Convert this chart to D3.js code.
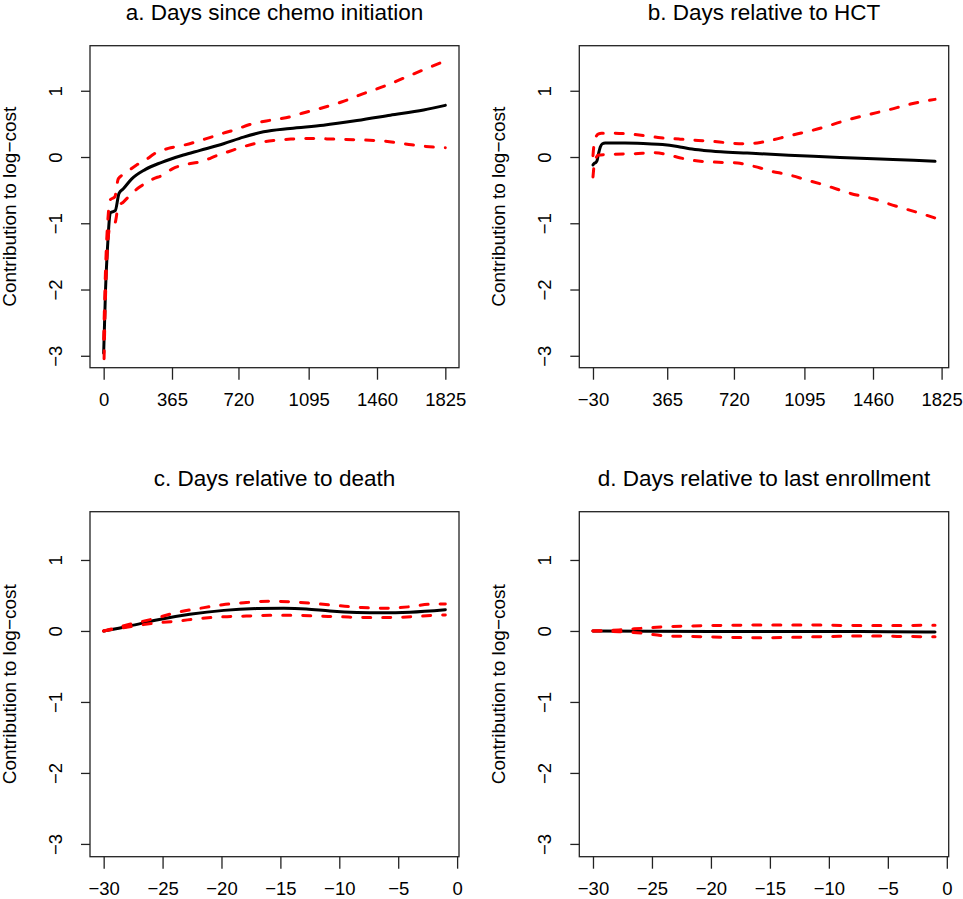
<!DOCTYPE html>
<html>
<head>
<meta charset="utf-8">
<script src="https://cdn.jsdelivr.net/npm/d3@7"></script>
<style>
  body { margin: 0; background: #fff; }
</style>
</head>
<body>
<script>
// ---- data ----
const titles = [
  "a. Days since chemo initiation",
  "b. Days relative to HCT",
  "c. Days relative to death",
  "d. Days relative to last enrollment",
];
const yLabel = "Contribution to log\u2212cost";
const yLim = [-3, 1.5];
const yTicks = [-3, -2, -1, 0, 1];
const xTicksA = [0, 365, 720, 1095, 1460, 1825];
const xTicksB = [-30, 365, 720, 1095, 1460, 1825];
const xTicksCD = [-30, -25, -20, -15, -10, -5, 0];

// a. chemo initiation
const fitDaysA = [0, 10, 24, 30, 37, 62, 82, 105, 150, 221, 310, 426, 515, 640, 747, 854, 996, 1174, 1353, 1531, 1709, 1825];
const fitA = [-2.96, -2.0, -1.2, -0.95, -0.84, -0.81, -0.55, -0.48, -0.33, -0.19, -0.08, 0.03, 0.10, 0.20, 0.30, 0.38, 0.43, 0.48, 0.55, 0.63, 0.71, 0.78];
const upDaysA = [0, 10, 25, 34, 60, 78, 114, 176, 221, 283, 345, 430, 540, 640, 700, 780, 900, 1000, 1060, 1140, 1270, 1380, 1500, 1610, 1720, 1825];
const upA = [-2.75, -1.7, -0.85, -0.65, -0.6, -0.33, -0.25, -0.12, -0.05, 0.07, 0.13, 0.18, 0.27, 0.36, 0.41, 0.49, 0.56, 0.61, 0.66, 0.72, 0.83, 0.95, 1.07, 1.20, 1.33, 1.45];
const loDaysA = [0, 8, 25, 34, 60, 78, 105, 158, 194, 265, 310, 372, 426, 520, 613, 666, 740, 854, 907, 1000, 1100, 1230, 1350, 1500, 1630, 1720, 1825];
const loA = [-3.35, -2.3, -1.2, -1.05, -1.0, -0.75, -0.68, -0.53, -0.45, -0.33, -0.28, -0.17, -0.12, -0.07, 0.03, 0.08, 0.15, 0.23, 0.25, 0.27, 0.28, 0.27, 0.26, 0.24, 0.19, 0.16, 0.14];

// b. relative to HCT
const fitDaysB = [-30, -25, -14, -8, -2, 9, 20, 35, 140, 260, 340, 420, 484, 560, 650, 790, 965, 1143, 1321, 1499, 1677, 1790];
const fitB = [-0.12, -0.10, -0.08, -0.05, 0.03, 0.15, 0.20, 0.21, 0.21, 0.20, 0.19, 0.16, 0.125, 0.10, 0.08, 0.06, 0.035, 0.01, -0.01, -0.03, -0.05, -0.065];
const upDaysB = [-30, -25, -15, 0, 15, 60, 150, 250, 330, 430, 530, 630, 700, 780, 860, 930, 1000, 1060, 1120, 1200, 1300, 1420, 1540, 1660, 1790];
const upB = [0.02, 0.18, 0.30, 0.35, 0.36, 0.36, 0.35, 0.32, 0.29, 0.27, 0.25, 0.23, 0.21, 0.20, 0.22, 0.26, 0.31, 0.35, 0.39, 0.45, 0.54, 0.63, 0.71, 0.80, 0.87];
const loDaysB = [-30, -24, -15, 0, 60, 190, 300, 380, 430, 500, 640, 740, 800, 860, 910, 1000, 1100, 1220, 1340, 1460, 1580, 1700, 1790];
const loB = [-0.30, -0.12, -0.02, 0.03, 0.04, 0.05, 0.065, 0.025, -0.01, -0.05, -0.08, -0.09, -0.125, -0.165, -0.21, -0.26, -0.34, -0.44, -0.55, -0.63, -0.74, -0.84, -0.92];

// c. relative to death
const fitDaysC = [-30, -27.8, -25.5, -22.7, -19.8, -17, -14.7, -12.8, -10.8, -8.5, -6.3, -4, -1];
const fitC = [0, 0.07, 0.155, 0.235, 0.29, 0.315, 0.32, 0.31, 0.28, 0.26, 0.255, 0.265, 0.30];
const upDaysC = [-30, -27.8, -25.8, -23.8, -21.8, -19.9, -17.9, -16, -14.1, -12, -10.1, -8.1, -6.2, -4.1, -2.3, -1];
const upC = [0, 0.094, 0.17, 0.26, 0.32, 0.37, 0.40, 0.42, 0.41, 0.385, 0.357, 0.33, 0.32, 0.34, 0.376, 0.38];
const loDaysC = [-30, -27.8, -25.8, -23.7, -21.9, -19.8, -17.9, -15.9, -13.9, -11.9, -9.9, -7.9, -5.9, -3.9, -1.9, -1];
const loC = [0, 0.06, 0.108, 0.14, 0.175, 0.20, 0.21, 0.22, 0.22, 0.21, 0.20, 0.19, 0.19, 0.20, 0.22, 0.225];

// d. relative to last enrollment
const fitDaysD = [-30, -25, -20, -15, -10, -5, -1];
const fitD = [0, -0.005, -0.008, -0.008, -0.008, -0.01, -0.014];
const upDaysD = [-30, -27.8, -25.8, -23.8, -21.8, -19.8, -17.8, -15.8, -13.9, -11.9, -9.9, -7.9, -5.9, -3.9, -1.9, -1];
const upD = [0, 0.015, 0.038, 0.06, 0.07, 0.077, 0.08, 0.085, 0.085, 0.085, 0.08, 0.077, 0.077, 0.077, 0.08, 0.08];
const loDaysD = [-30, -27.8, -25.8, -23.8, -21.8, -19.8, -17.8, -15.8, -13.9, -11.9, -9.9, -7.9, -5.9, -3.9, -1.9, -1];
const loD = [0, -0.01, -0.032, -0.07, -0.078, -0.085, -0.093, -0.096, -0.093, -0.085, -0.078, -0.07, -0.07, -0.078, -0.08, -0.08];

// ---- layout ----
const W = 963, H = 899;
const fontFam = "'Liberation Sans', Arial, Helvetica, sans-serif";

const panels = [
  { title: titles[0], box: [90, 459, 45.7, 367.7], xTicks: xTicksA,
    fit: [fitDaysA, fitA], up: [upDaysA, upA], lo: [loDaysA, loA] },
  { title: titles[1], box: [579.3, 948.7, 45.7, 367.7], xTicks: xTicksB,
    fit: [fitDaysB, fitB], up: [upDaysB, upB], lo: [loDaysB, loB] },
  { title: titles[2], box: [90, 459, 511.7, 856.7], xTicks: xTicksCD,
    fit: [fitDaysC, fitC], up: [upDaysC, upC], lo: [loDaysC, loC] },
  { title: titles[3], box: [579.3, 948.7, 511.7, 856.7], xTicks: xTicksCD,
    fit: [fitDaysD, fitD], up: [upDaysD, upD], lo: [loDaysD, loD] },
];

const svg = d3.select("body")
  .append("svg")
  .attr("width", W)
  .attr("height", H)
  .attr("viewBox", `0 0 ${W} ${H}`)
  .style("font-family", fontFam)
  .style("background", "#fff");

// R style: pad the data range by 4% on each side
function pad(ext) {
  const d = (ext[1] - ext[0]) * 0.04;
  return [ext[0] - d, ext[1] + d];
}

const fmt = d3.format("d");

panels.forEach((p, i) => {
  const [x0, x1, y0, y1] = p.box;
  const xAll = [...p.fit[0], ...p.up[0], ...p.lo[0]];
  const x = d3.scaleLinear().domain(pad(d3.extent(xAll))).range([x0, x1]);
  const y = d3.scaleLinear().domain(pad(yLim)).range([y1, y0]);

  const g = svg.append("g");

  g.append("clipPath")
    .attr("id", `clip${i}`)
    .append("rect")
    .attr("x", x0)
    .attr("y", y0)
    .attr("width", x1 - x0)
    .attr("height", y1 - y0);

  const line = d3.line()
    .x((d) => x(d[0]))
    .y((d) => y(d[1]))
    .curve(d3.curveMonotoneX);

  const pts = (s) => s[0].map((v, k) => [v, s[1][k]]);

  const lines = g.append("g").attr("clip-path", `url(#clip${i})`);

  lines.append("path")
    .attr("d", line(pts(p.fit)))
    .attr("fill", "none")
    .attr("stroke", "#000")
    .attr("stroke-width", 3)
    .attr("stroke-linecap", "round")
    .attr("stroke-linejoin", "round");

  [p.up, p.lo].forEach((s) => {
    lines.append("path")
      .attr("d", line(pts(s)))
      .attr("fill", "none")
      .attr("stroke", "#ff0000")
      .attr("stroke-width", 3)
      .attr("stroke-dasharray", "8,12")
      .attr("stroke-linecap", "round");
  });

  // frame
  g.append("rect")
    .attr("x", x0)
    .attr("y", y0)
    .attr("width", x1 - x0)
    .attr("height", y1 - y0)
    .attr("fill", "none")
    .attr("stroke", "#222")
    .attr("stroke-width", 1.3);

  // x axis
  const xa = g.append("g")
    .attr("transform", `translate(0,${y1})`)
    .call(d3.axisBottom(x).tickValues(p.xTicks).tickSize(12).tickFormat(fmt));
  xa.select(".domain").remove();
  xa.selectAll("line").attr("stroke", "#222").attr("stroke-width", 1.3);
  xa.selectAll("text")
    .attr("y", 38)
    .attr("dy", null)
    .attr("fill", "#000")
    .style("font-size", "18.5px")
    .style("font-family", fontFam);

  // y axis, labels parallel to the axis
  const ya = g.append("g")
    .attr("transform", `translate(${x0},0)`)
    .call(d3.axisLeft(y).tickValues(yTicks).tickSize(9).tickFormat(fmt));
  ya.select(".domain").remove();
  ya.selectAll("line").attr("stroke", "#222").attr("stroke-width", 1.3);
  ya.selectAll("text")
    .attr("x", 0)
    .attr("dy", null)
    .attr("text-anchor", "middle")
    .attr("transform", "translate(-28.3,0) rotate(-90)")
    .attr("fill", "#000")
    .style("font-size", "18.5px")
    .style("font-family", fontFam);

  // titles
  g.append("text")
    .attr("x", (x0 + x1) / 2)
    .attr("y", y0 - 25.5)
    .attr("text-anchor", "middle")
    .style("font-size", "22.5px")
    .text(p.title);

  g.append("text")
    .attr("transform", `translate(${x0 - 74},${(y0 + y1) / 2}) rotate(-90)`)
    .attr("text-anchor", "middle")
    .style("font-size", "19px")
    .text(yLabel);
});
</script>
</body>
</html>
